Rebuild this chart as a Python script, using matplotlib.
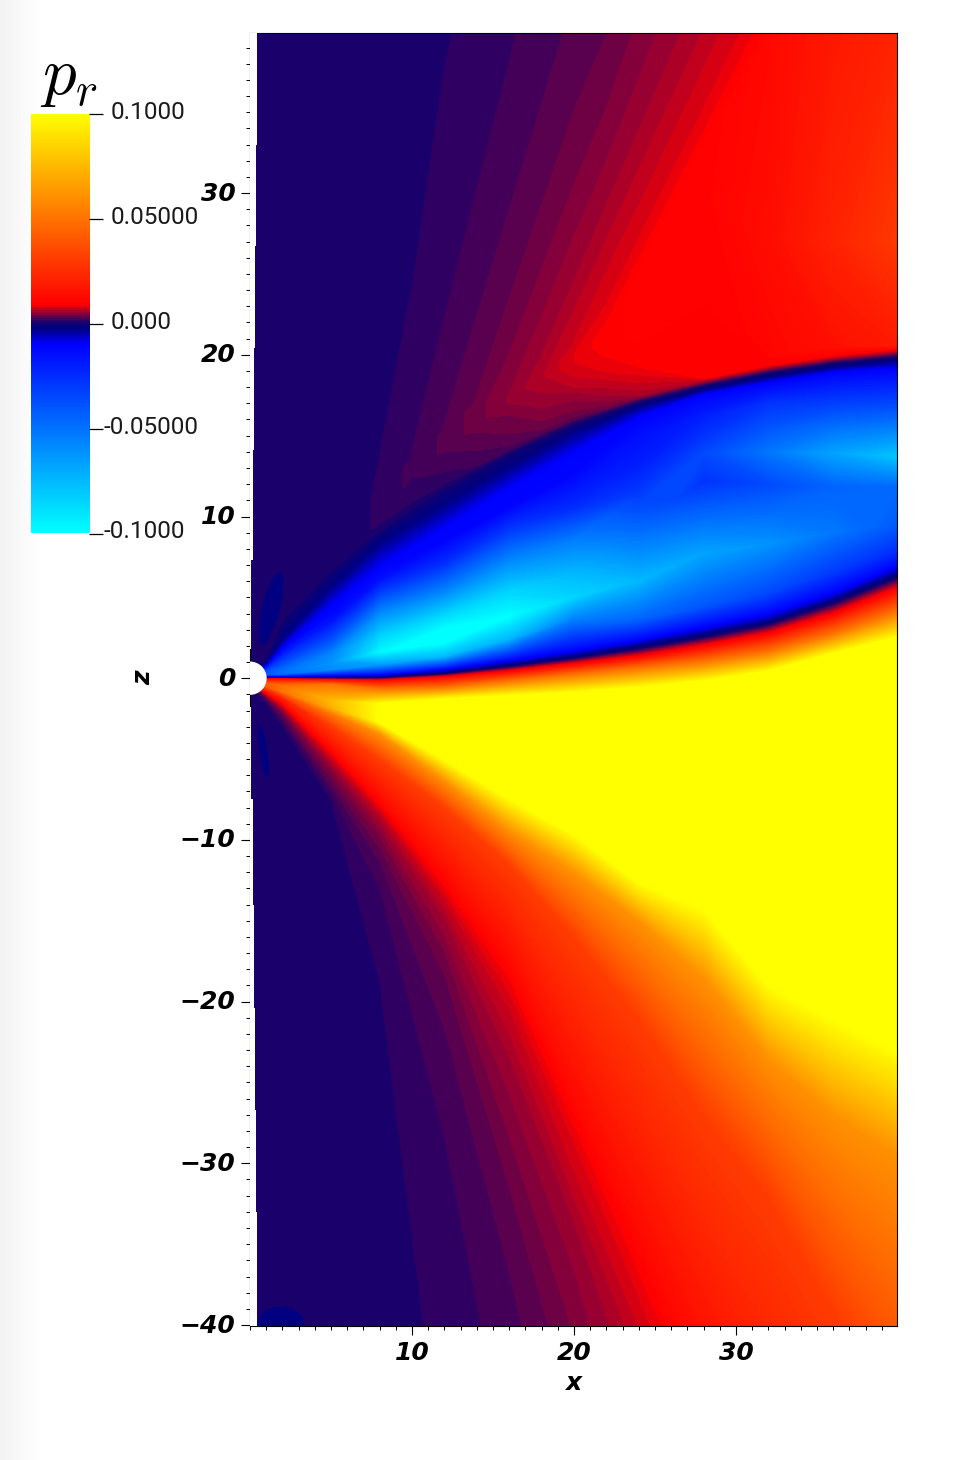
import numpy as np
import matplotlib
matplotlib.use("Agg")
import matplotlib.pyplot as plt
from matplotlib.colors import LinearSegmentedColormap, Normalize
from matplotlib.patches import Circle, Ellipse, Rectangle
from matplotlib.ticker import MultipleLocator
from matplotlib.transforms import ScaledTranslation

plt.rcParams['mathtext.fontset'] = 'cm'

# columns of the curvilinear field mesh below the outer edge of the inflow
X = [0.05, 1, 2, 5, 8, 12, 16, 20, 24, 28, 32, 36, 40]

# region below the inflow: rows from bottom to top
LOW_Z = [
 [-300]*13,
 [-.47,-1.55,-3.1,-7.7,-19,-50.5,-85.5,-115.5,-145.5,-175.5,-205.5,-235.5,-265.5],
 [-.45,-1.5,-2.9,-7.5,-18.7,-50,-85,-115,-145,-175,-205,-235,-265],
 [-.43,-1.4,-2.6,-7,-12.7,-27.3,-47,-70,-90,-115,-140,-170,-200],
 [-.41,-1.3,-2.4,-6.6,-11.2,-21.2,-36,-52,-68,-85,-102,-120,-138],
 [-.39,-1.2,-2.2,-6.2,-10.4,-18,-31,-45,-60,-75,-90,-105,-120],
 [-.37,-1.15,-2.05,-5.8,-9.7,-16.7,-28,-40,-55,-68,-82,-95,-108],
 [-.35,-1.1,-1.95,-5.5,-9.2,-15.7,-25.3,-36,-50,-62,-74,-86,-98],
 [-.34,-1.05,-1.85,-5.3,-8.8,-14.8,-23.3,-33.5,-45,-56,-67,-79,-91],
 [-.33,-1.02,-1.78,-5.1,-8.5,-14.2,-21.8,-32,-42,-52,-63,-74,-86],
 [-.32,-1,-1.7,-4.9,-8.2,-13.6,-20.3,-30.3,-40,-50,-60,-71,-82],
 [-.31,-.95,-1.65,-4.7,-8,-13.2,-19.3,-28.5,-38,-48,-58,-68,-78],
 [-.3,-.9,-1.55,-4.6,-7.8,-12.8,-18.5,-27.5,-36.5,-46,-56,-66,-76],
 [-.25,-.75,-1.2,-2.9,-5,-8,-11.5,-16,-21,-27,-32,-39,-46],
 [-.2,-.6,-1,-2.2,-3.4,-6.3,-9.4,-12,-15,-18.5,-23.5,-27,-29.5],
 [-.15,-.5,-.8,-1.8,-2.7,-5,-7.4,-9.6,-12.6,-14.2,-18.9,-21,-23],
 [-.1,-.3,-.5,-1.4,-1.6,-1.3,-1.1,-.9,-.6,-.2,.4,1.5,2.5],
 [-.05,-.15,-.25,-.4,-.7,-.6,-.2,.2,.6,1,1.6,2.7,4.1],
 [-.01,-.03,-.05,-.1,-.15,.05,.4,.85,1.3,1.95,2.7,3.9,5.5],
]
LOW_V = [
 [.0004]*13,
 [.0004]*13,
 [.0004,.0008,.0008,.0008,.0008,.0008,.0008,.0008,.0008,.0008,.0008,.0008,.0008],
 [.0004,.0016,.0016,.0016,.0016,.0016,.0016,.0016,.0016,.0016,.0016,.0016,.0016],
 [.0016,.0024,.0024,.0024,.0024,.0024,.0024,.0024,.0024,.0024,.0024,.0024,.0024],
 [.0016,.0032,.0032,.0032,.0032,.0032,.0032,.0032,.0032,.0032,.0032,.0032,.0032],
 [.0024,.004,.004,.004,.004,.004,.004,.004,.004,.004,.004,.004,.004],
 [.0024,.0048,.0048,.0048,.0048,.0048,.0048,.0048,.0048,.0048,.0048,.0048,.0048],
 [.0032,.0055,.0055,.0055,.0055,.0055,.0055,.0055,.0055,.0055,.0055,.0055,.0055],
 [.0032,.0063,.0063,.0063,.0063,.0063,.0063,.0063,.0063,.0063,.0063,.0063,.0063],
 [.004,.0071,.0071,.0071,.0071,.0071,.0071,.0071,.0071,.0071,.0071,.0071,.0071],
 [.004,.0079,.0079,.0079,.0079,.0079,.0079,.0079,.0079,.0079,.0079,.0079,.0079],
 [.005,.0087,.0087,.0087,.0087,.0087,.0087,.0087,.0087,.0087,.0087,.0087,.0087],
 [.01,.02,.02,.03,.03,.03,.03,.03,.03,.03,.03,.03,.03],
 [.015,.03,.035,.05,.06,.06,.06,.06,.06,.06,.06,.06,.06],
 [.02,.04,.05,.07,.1,.1,.1,.1,.1,.1,.1,.1,.1],
 [.02,.04,.05,.075,.1,.1,.1,.1,.1,.1,.1,.1,.1],
 [.01,.02,.03,.05,.05,.05,.05,.05,.05,.05,.05,.05,.05],
 [.005,.01,.01,.01,.01,.01,.01,.01,.01,.01,.01,.01,.01],
]

# inflow (blue) region: rows from bottom to top
BLUE_Z = [
 [0,0,0,0,0,.25,.7,1.2,1.8,2.5,3.3,4.6,6.2],
 [.02,.03,.03,.03,.05,.33,.82,1.35,2,2.7,3.5,4.8,6.45],
 [.03,.07,.07,.1,.15,.5,1.05,1.65,2.3,3.1,3.9,5.2,6.9],
 [.05,.15,.2,.5,.8,1.3,2.4,3.6,3.6,4.4,5.2,6.5,7.8],
 [.06,.2,.3,.9,1.6,2.5,3.8,5,6,7.7,8.3,9,9.5],
 [.08,.3,.45,1.5,2.6,4,5.4,6.5,9.5,12.2,12,11.8,11.8],
 [.1,.4,.7,2.3,4,5.5,7.3,8.5,11.5,13.9,14,13.9,13.7],
 [.2,.6,1.2,3.6,5.4,7.2,9.2,10.6,13.2,15,15.5,15.5,15.5],
 [.25,.7,1.5,4,6.2,8.5,10.6,12.5,15,16.3,17,17,17],
 [.3,.8,1.9,4.5,6.9,9.3,11.8,14,16.2,17.6,18.3,18.95,19.2],
 [.4,1,2.4,5.6,8.3,10.7,13,15.2,16.8,17.85,18.65,19.25,19.65],
 [.45,1.2,3.6,6.6,9.2,11.7,13.9,15.7,17.1,18.1,18.9,19.5,19.9],
]
BLUE_V = [
 [0]*13,
 [-.003]*13,
 [-.01]*13,
 [-.02,-.04,-.045,-.06,-.065,-.075,-.075,-.055,-.045,-.04,-.035,-.03,-.025],
 [-.02,-.04,-.05,-.062,-.098,-.11,-.1,-.085,-.075,-.068,-.062,-.052,-.042],
 [-.02,-.04,-.05,-.058,-.085,-.085,-.085,-.075,-.045,-.028,-.036,-.045,-.047],
 [-.02,-.04,-.045,-.04,-.06,-.055,-.058,-.055,-.03,-.036,-.052,-.068,-.08],
 [-.02,-.03,-.03,-.015,-.03,-.025,-.03,-.025,-.02,-.028,-.04,-.05,-.055],
 [-.015,-.02,-.02,-.012,-.014,-.011,-.011,-.012,-.015,-.02,-.028,-.032,-.035],
 [-.01]*13,
 [-.003]*13,
 [0]*13,
]

# columns of the mesh above the inflow
UP_X = [0.05, 1, 2, 5, 7, 10, 12, 14, 16, 18, 20, 22, 24, 28, 32, 36, 40]
# outer edge of the inflow at those columns
UP_EDGE = [.45, 1.2, 3.6, 6.6, 8.33, 10.45, 11.7, 12.8, 13.9, 14.8, 15.7, 16.4, 17.1, 18.1, 18.9, 19.5, 19.9]
# colour band values, lowest to highest
BAND_V = [.0008, .0016, .0024, .0032, .004, .0048, .0055, .0063, .0071, .0079, .0087]
# highest values in three rows above the band edges
PEAK1_V = [.0004, .0004, .0004, .0004, .0006, .0018, .0025, .0035, .0048, .0061, .0078, .0092, .0095, .0095, .0105, .014, .018]
PEAK2_V = [.0004, .0004, .0004, .0004, .0006, .0018, .0025, .0035, .0048, .0061, .0078, .0092, .0095, .0098, .013, .021, .029]
PEAK3_V = [.0004, .0004, .0004, .0004, .0006, .0018, .0025, .0035, .0048, .0061, .0078, .0092, .0095, .0095, .0115, .017, .021]
# per column: heights of 11 rising band edges, 3 peak rows, 11 falling band edges
UP_COLS = [
 [.5,.52,.54,.56,.58,.6,.62,.64,.66,.68,.7, 1,1.2,1.4, 1.6,1.8,2,2.2,2.4,2.6,2.8,3,3.2,3.4,3.6],
 [1.3,1.35,1.4,1.45,1.5,1.55,1.6,1.65,1.7,1.75,1.8, 2,2.2,2.4, 3,3.3,3.6,3.9,4.2,4.5,4.8,5.1,5.4,5.7,6],
 [3.7,3.75,3.8,3.85,3.9,3.95,4,4.05,4.1,4.15,4.2, 4.4,4.6,4.8, 5,5.3,5.6,5.9,6.2,6.5,6.8,7.1,7.4,7.7,8],
 [6.7,6.75,6.8,6.85,6.9,6.95,7,7.05,7.1,7.15,7.2, 7.4,7.6,7.8, 8,8.3,8.6,8.9,9.2,9.5,9.8,10.1,10.4,10.7,11],
 [8.5,8.55,8.6,8.65,8.7,8.75,8.8,8.85,8.9,8.95,9, 9.2,9.4,9.6, 10,10.1,10.2,10.3,10.4,10.5,10.6,10.7,10.8,10.9,11],
 [10.9,12.4,12.45,12.5,12.55,12.6,12.65,12.7,12.75,12.8,12.85, 12.9,13,13.1, 13.15,13.2,13.25,13.3,13.35,13.4,13.45,13.5,13.55,13.6,24],
 [12,12.8,14.1,14.2,14.3,14.4,14.5,14.6,14.7,14.8,14.9, 15,15.05,15.1, 15.12,15.14,15.16,15.18,15.2,15.22,15.24,15.26,15.4,21.5,37.7],
 [13,13.15,14.15,15.3,15.5,15.7,15.9,16.1,16.3,16.5,16.7, 16.8,16.85,16.9, 16.92,16.94,16.96,16.98,17,17.05,17.1,17.2,21.9,29.4,47],
 [14,14.1,14.4,15.2,16.4,17.1,17.12,17.14,17.16,17.18,17.2, 17.22,17.24,17.25, 17.26,17.27,17.28,17.29,17.3,17.32,19.7,23,28.4,37.2,57],
 [14.95,15.05,15.15,15.4,16,16.8,17.7,18.6,18.62,18.64,18.66, 18.7,18.72,18.75, 18.8,18.85,18.9,18.95,19.9,22,24.9,28.7,34.8,45,67],
 [15.8,15.9,16,16.2,16.6,17.3,17.7,18,18.7,19.5,19.55, 19.6,19.65,19.7, 19.9,20.1,20.7,22.6,24.5,26.9,30,34.5,41.4,53,77],
 [16.5,16.55,16.6,16.7,16.9,17.2,17.5,18,18.5,19,20, 21,21.3,21.5, 21.9,22.95,25,27,29.2,31.5,34.8,39,47.6,61,87],
 [17.15,17.2,17.25,17.3,17.35,17.4,17.5,17.8,18.3,18.8,19.3, 21,23,25, 25.8,27,29,31.3,33.8,36.6,40.5,46,54.3,68.7,97],
 [18.14,18.18,18.22,18.26,18.3,18.34,18.38,18.42,18.46,18.5,18.54, 24,30,33, 33.6,35,37.5,40,43,46.4,50.9,57.5,67,84.5,117],
 [18.94,18.98,19.02,19.06,19.1,19.14,19.18,19.22,19.26,19.3,19.34, 20,27,39.5, 41.4,43.2,46,48.8,52.3,56,61.3,69,80,100,137],
 [19.54,19.58,19.62,19.66,19.7,19.74,19.78,19.82,19.86,19.9,19.94, 20.5,27,41, 49.2,51.4,54.3,57.5,61.6,66,71.7,80,93,116,157],
 [19.94,19.98,20.02,20.06,20.1,20.14,20.18,20.22,20.26,20.3,20.34, 20.6,27,41, 57,59.5,62.7,66,71,75.7,82,92,106,132,177],
]
BACKGROUND_V = .0004

# small closed navy lobes: centre x, centre z, width, height, angle
LOBES = [(1.3, 4.3, 1.1, 4.6, -14), (0.83, -4.5, 0.5, 3.2, 8), (1.9, -40, 2.9, 2.3, 0)]

# uncovered white strip along the axis: z from, z to, width in x
STRIP = [(33, 40, .43), (26.7, 33, .35), (20.4, 26.7, .29), (14.1, 20.4, .23), (7.3, 14.1, .17),
         (1.8, 7.3, .06), (-7.5, -1.8, .06), (-14, -7.5, .17), (-20.4, -14, .23),
         (-26.7, -20.4, .29), (-33, -26.7, .35), (-40.1, -33, .41)]

CBAR_TICKS = [0.1, 0.05, 0.0, -0.05, -0.1]
CBAR_LABELS = ['0.1000', '0.05000', '0.000', '-0.05000', '-0.1000']
X_TICKS = [10, 20, 30]
Z_TICKS = [-40, -30, -20, -10, 0, 10, 20, 30]

W, H = 970, 1460
fig = plt.figure(figsize=(W/100, H/100), dpi=100, facecolor='white')

def axpx(l, t, r, b):
    return fig.add_axes([l/W, 1-b/H, (r-l)/W, (b-t)/H])

# faint grey page edge
bg = axpx(0, 0, W, H)
bg.imshow(np.array([[.955, .965, .98, .99, .998, 1, 1, 1, 1, 1, 1, 1, 1, 1, 1, 1, 1, 1, 1, 1]]),
          cmap='gray', vmin=0, vmax=1, aspect='auto', extent=(0, 194, 0, 1), interpolation='bilinear')
bg.set_xlim(0, W)
bg.axis('off')

vmin, vmax = -0.1, 0.1
frac = lambda v: (v - vmin)/(vmax - vmin)
NAVY = (16/255, 0, 112/255)
cmap = LinearSegmentedColormap.from_list('pr', [
    (0.0, (0, 1, 1)),
    (frac(-0.01), (0, 0, 1)),
    (frac(-0.0025), (0, 0, 128/255)),
    (frac(0), NAVY),
    (frac(0.009), (1, 0, 0)),
    (1.0, (1, 1, 0)),
], N=256)
norm = Normalize(vmin, vmax)

# lower mesh
Zm = np.array(LOW_Z + BLUE_Z, dtype=float)
Vm = np.array(LOW_V + BLUE_V, dtype=float)
Xm = np.tile(np.array(X, dtype=float), (Zm.shape[0], 1))
assert np.all(np.diff(Zm, axis=0) >= 0), np.argwhere(np.diff(Zm, axis=0) < 0)

# upper mesh
cols = np.array(UP_COLS, dtype=float)
assert cols.shape == (len(UP_X), 25)
p1, p2, p3 = (np.array(p) for p in (PEAK1_V, PEAK2_V, PEAK3_V))
bands = np.array(BAND_V)
rising = [np.minimum(b, p1) for b in bands]
falling = [np.minimum(b, p1) for b in bands[::-1]]
n = len(UP_X)
Vu = np.array([np.zeros(n)] + rising + [p1, p2, p3] + falling + [np.full(n, BACKGROUND_V)]*2)
Zu = np.vstack([UP_EDGE, cols.T, cols[:, -1] + .3, np.full(n, 300.)])
Xu = np.tile(np.array(UP_X, dtype=float), (Zu.shape[0], 1))
assert np.all(np.diff(Zu, axis=0) >= 0), np.argwhere(np.diff(Zu, axis=0) < 0)

ax = axpx(250, 33, 897.5, 1326)
ax.set_facecolor(NAVY)
levels = np.linspace(vmin, vmax, 257)
ax.contourf(Xm, Zm, Vm, levels=levels, cmap=cmap, norm=norm, extend='both', antialiased=False)
ax.contourf(Xu, Zu, Vu, levels=levels, cmap=cmap, norm=norm, extend='both', antialiased=False)
for cx, cz, w, h, ang in LOBES:
    ax.add_patch(Ellipse((cx, cz), w, h, angle=ang, fc=(0, 0, 128/255), ec='none', zorder=3))
ax.add_patch(Circle((0, 0), 1.03, fc='white', ec='none', zorder=4))
for z0, z1, w in STRIP:
    ax.add_patch(Rectangle((0, z0), w, z1 - z0, fc='white', ec='none', zorder=4))
ax.set_xlim(0, 39.97)
ax.set_ylim(-40.06, 39.9)
ax.set_xticks(X_TICKS)
ax.set_yticks(Z_TICKS)
ax.xaxis.set_minor_locator(MultipleLocator(1))
ax.yaxis.set_minor_locator(MultipleLocator(1))
ax.tick_params(which='major', length=6.5, width=0.8, direction='out', pad=4)
ax.tick_params(which='minor', length=3, width=0.7, direction='out')
tickfont = dict(family='DejaVu Sans', weight='bold', style='oblique', size=18)
ax.set_xticklabels([str(v) for v in X_TICKS], **tickfont)
ax.set_yticklabels([('\u2212' + str(-v)) if v < 0 else str(v) for v in Z_TICKS], **tickfont)
for lbl in ax.get_yticklabels():
    lbl.set_transform(lbl.get_transform() + ScaledTranslation(0, 2/100, fig.dpi_scale_trans))
ax.set_xlabel('x', va='center', **tickfont)
ax.set_ylabel('z', va='center', **tickfont)
ax.xaxis.set_label_coords(0.4985, -(1383-1326)/1293)
ax.yaxis.set_label_coords(-(250-143)/647.5, 1-(678-33)/1293)
for s in ax.spines.values():
    s.set_linewidth(0.8)

# colour bar
cax = axpx(31, 114, 89, 533.5)
grad = np.linspace(vmax, vmin, 512).reshape(-1, 1)
cax.imshow(grad, cmap=cmap, norm=norm, aspect='auto', extent=(0, 1, vmin, vmax), interpolation='nearest')
cax.set_xticks([])
cax.yaxis.tick_right()
cax.set_yticks(CBAR_TICKS)
cax.set_yticklabels([])
cax.tick_params(axis='y', length=10, width=0.9)
for s in cax.spines.values():
    s.set_visible(False)
for v, lab in zip(CBAR_TICKS, CBAR_LABELS):
    ypx = 114 + (vmax - v)/(vmax - vmin)*419.5
    xpx = 104 if lab.startswith('-') else 111
    fig.text(xpx/W, 1-(ypx-1.5)/H, lab, ha='left', va='center', family='Roboto',
             size=17.5, color='#1a1a1a')

fig.text(69.5/W, 1-76/H, r'$p_r$', ha='center', va='center', size=48, color='black')

fig.savefig('out.png', dpi=100)
